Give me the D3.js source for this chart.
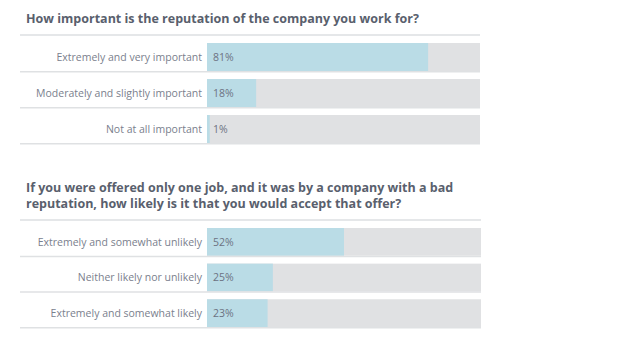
<!DOCTYPE html>
<html>
<head>
<meta charset="utf-8">
<script src="https://cdn.jsdelivr.net/npm/d3@7"></script>
<style>
  html, body { margin: 0; padding: 0; background: #fff; }
  svg { display: block; }
</style>
</head>
<body>
<svg id="chart" width="630" height="358"></svg>
<script>
// ---- Data ----
const q1Title = ["How important is the reputation of the company you work for?"];
const q1Categories = ["Extremely and very important", "Moderately and slightly important", "Not at all important"];
const q1Values = [81, 18, 1];

const q2Title = ["If you were offered only one job, and it was by a company with a bad", "reputation, how likely is it that you would accept that offer?"];
const q2Categories = ["Extremely and somewhat unlikely", "Neither likely nor unlikely", "Extremely and somewhat likely"];
const q2Values = [52, 25, 23];

// ---- Styles ----
const titleColor = "#59606d";
const labelColor = "#7a808d";
const valueColor = "#6c7282";
const barColor = "#badce6";
const trackColor = "#e0e1e3";
const ruleColor = "#dfe1e3";
const font = "'Open Sans', Lato, sans-serif";

const svg = d3.select("#chart");

function drawPanel(cfg) {
  const g = svg.append("g");
  const x = d3.scaleLinear().domain([0, cfg.max]).range([207, cfg.x1]);
  const y = d3.scaleBand().domain(cfg.categories).range(cfg.yRange)
    .paddingInner(0.222).paddingOuter(0);

  // title (one text element, one tspan per line)
  const t = g.append("text")
    .attr("x", 26)
    .attr("y", cfg.titleY)
    .attr("font-family", font)
    .attr("font-weight", 700)
    .attr("font-size", 12.5)
    .attr("fill", titleColor);
  t.selectAll("tspan").data(cfg.title).join("tspan")
    .attr("x", 26)
    .attr("y", (d, i) => cfg.titleY + i * 16)
    .text(d => d);

  // top divider
  g.append("line")
    .attr("x1", 20).attr("x2", cfg.x1)
    .attr("y1", cfg.dividerY).attr("y2", cfg.dividerY)
    .attr("stroke", "#e5e7e9").attr("stroke-width", 2);

  const rows = g.selectAll("g.row").data(cfg.categories).join("g").attr("class", "row");

  // track
  rows.append("rect")
    .attr("x", x(0)).attr("y", d => y(d))
    .attr("width", x(cfg.max) - x(0)).attr("height", y.bandwidth())
    .attr("fill", trackColor);

  // bar
  rows.append("rect")
    .attr("x", x(0)).attr("y", d => y(d))
    .attr("width", (d, i) => x(cfg.values[i]) - x(0)).attr("height", y.bandwidth())
    .attr("fill", barColor);

  // row rule
  rows.append("line")
    .attr("x1", 20).attr("x2", cfg.x1)
    .attr("y1", d => y(d) + y.bandwidth() + 0.75)
    .attr("y2", d => y(d) + y.bandwidth() + 0.75)
    .attr("stroke", ruleColor).attr("stroke-width", 1.5);

  // category label
  rows.append("text")
    .attr("x", 202).attr("y", d => y(d) + y.bandwidth() / 2)
    .attr("dy", "0.35em")
    .attr("text-anchor", "end")
    .attr("font-family", font)
    .attr("font-size", 10.5)
    .attr("fill", labelColor)
    .text(d => d);

  // value label
  rows.append("text")
    .attr("x", 213).attr("y", d => y(d) + y.bandwidth() / 2)
    .attr("dy", "0.35em")
    .attr("font-family", font)
    .attr("font-size", 10.5)
    .attr("fill", valueColor)
    .text((d, i) => cfg.values[i] + "%");
}

drawPanel({
  title: q1Title, categories: q1Categories, values: q1Values,
  titleY: 23, dividerY: 35, yRange: [43, 143], max: 100, x1: 480
});

drawPanel({
  title: q2Title, categories: q2Categories, values: q2Values,
  titleY: 192, dividerY: 220, yRange: [228, 327], max: 104, x1: 481
});
</script>
</body>
</html>
